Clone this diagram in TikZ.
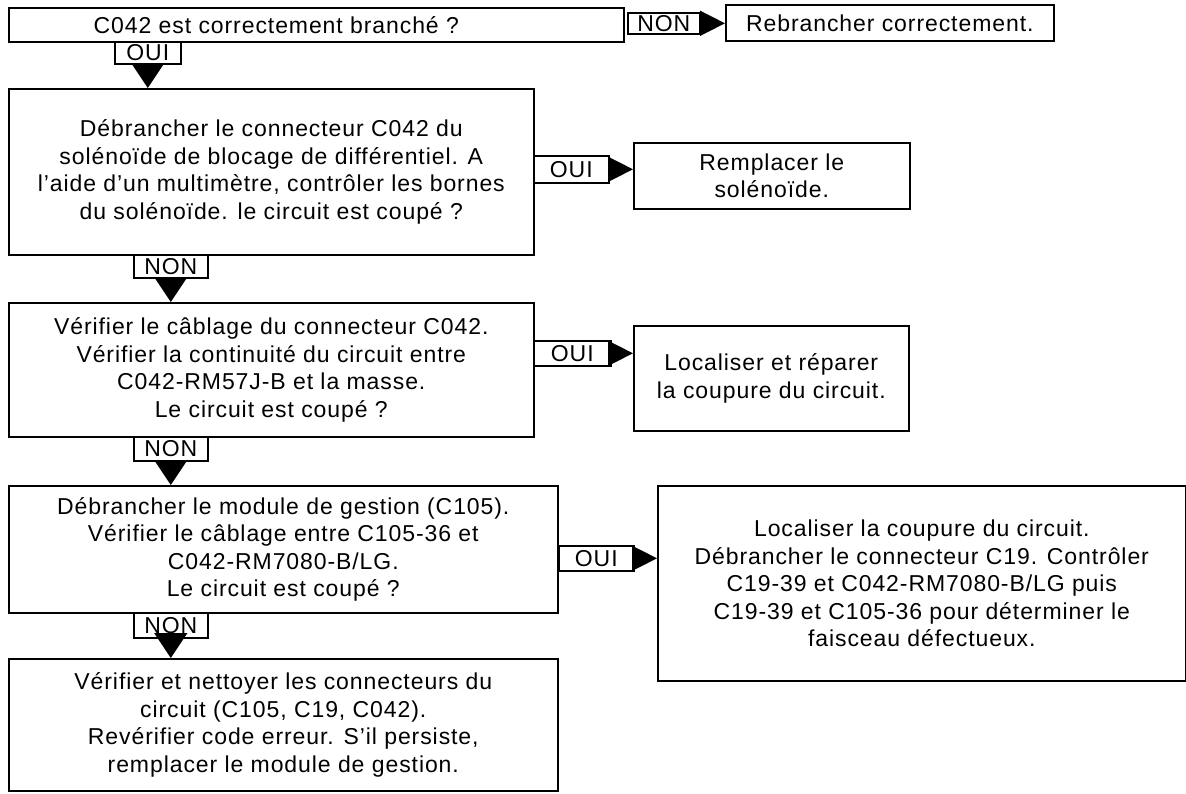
\documentclass[tikz,border=0pt]{standalone}
\usepackage{fontspec}
\setmainfont{Liberation Sans}[LetterSpace=4]
\usetikzlibrary{arrows.meta}

\begin{document}
\begin{tikzpicture}[x=1pt,y=-1pt,
    box/.style={draw, line width=1.6pt, anchor=north west, inner sep=0pt,
      align=center, font=\fontsize{23}{27.5}\selectfont},
    tag/.style={box, minimum height=23pt},
    downtip/.style={line width=1.6pt, -{Triangle[length=25pt,width=33pt]}},
    sidetip/.style={line width=1.6pt, -{Triangle[length=25pt,width=25pt]}}]
  \useasboundingbox (0,0) rectangle (1186,793);

  % questions down the left
  \node[box, minimum width=615pt, minimum height=34pt] (q1) at (8,7)
    {C042 est correctement branché ?\hspace{80pt}};
  \node[box, minimum width=525pt, minimum height=166pt] (q2) at (8,88)
    {Débrancher le connecteur C042 du\\
     solénoïde de blocage de différentiel. A\\
     l’aide d’un multimètre, contrôler les bornes\\
     du solénoïde. le circuit est coupé ?};
  \node[box, minimum width=525pt, minimum height=134pt] (q3) at (8,302)
    {Vérifier le câblage du connecteur C042.\\
     Vérifier la continuité du circuit entre\\
     C042-RM57J-B et la masse.\\
     Le circuit est coupé ?};
  \node[box, minimum width=549pt, minimum height=127pt] (q4) at (8,485)
    {Débrancher le module de gestion (C105).\\
     Vérifier le câblage entre C105-36 et\\
     C042-RM7080-B/LG.\\
     Le circuit est coupé ?};
  \node[box, minimum width=549pt, minimum height=132pt] (q5) at (8,658)
    {Vérifier et nettoyer les connecteurs du\\
     circuit (C105, C19, C042).\\
     Revérifier code erreur. S’il persiste,\\
     remplacer le module de gestion.};

  % actions on the right
  \node[box, minimum width=328pt, minimum height=36pt] (a1) at (725,4)
    {Rebrancher correctement.};
  \node[box, minimum width=276pt, minimum height=66pt] (a2) at (633,142)
    {Remplacer le\\ solénoïde.};
  \node[box, minimum width=275pt, minimum height=105pt] (a3) at (633,325)
    {Localiser et réparer\\ la coupure du circuit.};
  \node[box, minimum width=528pt, minimum height=195pt] (a4) at (657,485)
    {Localiser la coupure du circuit.\\
     Débrancher le connecteur C19. Contrôler\\
     C19-39 et C042-RM7080-B/LG puis\\
     C19-39 et C105-36 pour déterminer le\\
     faisceau défectueux.};

  % answer tags
  \node[tag, minimum width=72pt, minimum height=21pt] (n1) at (627,12) {NON};
  \node[tag, minimum width=66pt, minimum height=22pt] (o1) at (114,41) {OUI};
  \node[tag, minimum width=75pt, minimum height=27pt] (o2) at (533,155) {OUI};
  \node[tag, minimum width=74pt] (n2) at (133,254) {NON};
  \node[tag, minimum width=77pt, minimum height=25pt] (o3) at (533,340) {OUI};
  \node[tag, minimum width=74pt, minimum height=24pt] (n3) at (133,436) {NON};
  \node[tag, minimum width=75pt, minimum height=25pt] (o4) at (558,545) {OUI};
  \node[tag, minimum width=74pt, minimum height=25pt] (n4) at (133,612) {NON};

  % arrow heads from the tags
  \draw[sidetip] (n1.east) -- (n1.east -| a1.west);
  \draw[downtip] (o1.south) -- (o1.south |- q2.north);
  \draw[sidetip] (o2.east) -- (o2.east -| a2.west);
  \draw[downtip] (n2.south) -- (n2.south |- q3.north);
  \draw[sidetip] (o3.east) -- (o3.east -| a3.west);
  \draw[downtip] (n3.south) -- (n3.south |- q4.north);
  \draw[sidetip] (o4.east) -- (o4.east -| a4.west);
  \draw[downtip] (n4.south) -- (n4.south |- q5.north);
\end{tikzpicture}
\end{document}
